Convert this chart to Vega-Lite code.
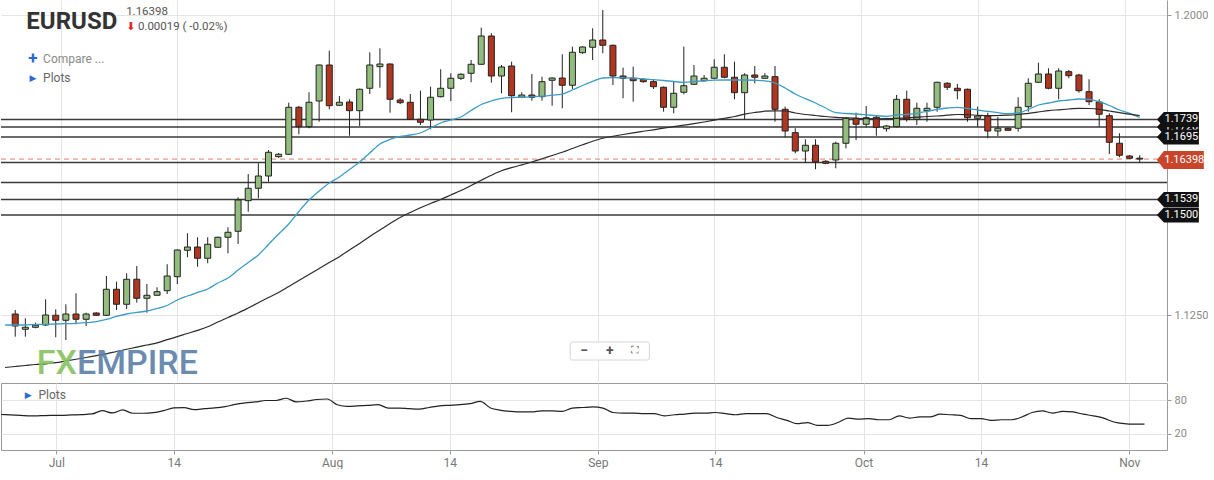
{
"$schema": "https://vega.github.io/schema/vega-lite/v6.json",
"background": "#ffffff",
"padding": 0,
"spacing": 0,
"config": {"font": "Roboto", "view": {"stroke": null}, "axis": {"labelColor": "#8a8a8a", "labelFontSize": 11, "tickColor": "#9a9a9a", "domainColor": "#9a9a9a", "gridColor": "#e4e4e4"}},
"resolve": {"scale": {"x": "independent", "y": "independent"}},
"datasets": {
"candles": [
{"i":-1,"o":1.1308,"h":1.1349,"l":1.1247,"c":1.1253,"m20":1.1225,"m50":1.11188,"osc":54.5},
{"i":0,"o":1.12525,"h":1.12625,"l":1.11958,"c":1.12225,"m20":1.1225,"m50":1.11213,"osc":53.6},
{"i":1,"o":1.12143,"h":1.12418,"l":1.11958,"c":1.12193,"m20":1.1225,"m50":1.11238,"osc":52.7},
{"i":2,"o":1.12193,"h":1.12308,"l":1.12168,"c":1.12243,"m20":1.12263,"m50":1.11263,"osc":51.8},
{"i":3,"o":1.1225,"h":1.12893,"l":1.12225,"c":1.125,"m20":1.12268,"m50":1.1128,"osc":52.3},
{"i":4,"o":1.12493,"h":1.12643,"l":1.11943,"c":1.12368,"m20":1.12275,"m50":1.11308,"osc":52.7},
{"i":5,"o":1.12368,"h":1.12768,"l":1.11875,"c":1.12525,"m20":1.12283,"m50":1.1135,"osc":52.7},
{"i":6,"o":1.12525,"h":1.13043,"l":1.12268,"c":1.12393,"m20":1.12293,"m50":1.11393,"osc":53.6},
{"i":7,"o":1.12393,"h":1.12558,"l":1.12225,"c":1.12525,"m20":1.12308,"m50":1.11438,"osc":54.1},
{"i":8,"o":1.1255,"h":1.12568,"l":1.12475,"c":1.12493,"m20":1.12333,"m50":1.11485,"osc":55.4},
{"i":9,"o":1.12493,"h":1.13475,"l":1.1248,"c":1.13143,"m20":1.12388,"m50":1.1153,"osc":61.3},
{"i":10,"o":1.13143,"h":1.13333,"l":1.12625,"c":1.12768,"m20":1.12463,"m50":1.11588,"osc":57.2},
{"i":11,"o":1.12768,"h":1.13543,"l":1.1265,"c":1.13393,"m20":1.12525,"m50":1.11643,"osc":62.6},
{"i":12,"o":1.13393,"h":1.13725,"l":1.12808,"c":1.12918,"m20":1.12563,"m50":1.11695,"osc":56.7},
{"i":13,"o":1.12918,"h":1.13275,"l":1.12558,"c":1.12993,"m20":1.126,"m50":1.1175,"osc":56.7},
{"i":14,"o":1.12993,"h":1.13193,"l":1.1299,"c":1.13083,"m20":1.12663,"m50":1.11805,"osc":57.7},
{"i":15,"o":1.13108,"h":1.13768,"l":1.13025,"c":1.13475,"m20":1.12738,"m50":1.11883,"osc":61.3},
{"i":16,"o":1.13458,"h":1.1414,"l":1.13275,"c":1.14125,"m20":1.12875,"m50":1.11958,"osc":66.2},
{"i":17,"o":1.14118,"h":1.14543,"l":1.13943,"c":1.142,"m20":1.12975,"m50":1.12038,"osc":66.7},
{"i":18,"o":1.142,"h":1.14443,"l":1.13708,"c":1.13918,"m20":1.13063,"m50":1.12115,"osc":63.1},
{"i":19,"o":1.13918,"h":1.14443,"l":1.13793,"c":1.14268,"m20":1.1315,"m50":1.12205,"osc":64.9},
{"i":20,"o":1.14193,"h":1.1446,"l":1.1418,"c":1.14443,"m20":1.133,"m50":1.12325,"osc":66.2},
{"i":21,"o":1.14443,"h":1.14693,"l":1.14043,"c":1.14568,"m20":1.13425,"m50":1.12438,"osc":68.5},
{"i":22,"o":1.14593,"h":1.15443,"l":1.14275,"c":1.15375,"m20":1.13625,"m50":1.1255,"osc":72.5},
{"i":23,"o":1.15358,"h":1.16025,"l":1.15083,"c":1.15668,"m20":1.13813,"m50":1.12675,"osc":75.2},
{"i":24,"o":1.15668,"h":1.16293,"l":1.15418,"c":1.15975,"m20":1.14,"m50":1.12805,"osc":77},
{"i":25,"o":1.15975,"h":1.16625,"l":1.15833,"c":1.16568,"m20":1.14263,"m50":1.12938,"osc":79.6},
{"i":26,"o":1.16458,"h":1.1655,"l":1.1643,"c":1.16518,"m20":1.14525,"m50":1.13063,"osc":79.6},
{"i":27,"o":1.16518,"h":1.17808,"l":1.165,"c":1.17693,"m20":1.14775,"m50":1.13213,"osc":83.6},
{"i":28,"o":1.17693,"h":1.17725,"l":1.17018,"c":1.17208,"m20":1.15088,"m50":1.13363,"osc":77},
{"i":29,"o":1.17208,"h":1.18068,"l":1.17168,"c":1.17818,"m20":1.15375,"m50":1.13513,"osc":78.7},
{"i":30,"o":1.1785,"h":1.1876,"l":1.17333,"c":1.1875,"m20":1.156,"m50":1.13663,"osc":81.4},
{"i":31,"o":1.1875,"h":1.19108,"l":1.17643,"c":1.17733,"m20":1.158,"m50":1.13813,"osc":82.3},
{"i":32,"o":1.17743,"h":1.17975,"l":1.1773,"c":1.17818,"m20":1.1595,"m50":1.13958,"osc":72},
{"i":33,"o":1.17825,"h":1.17893,"l":1.16983,"c":1.17608,"m20":1.16138,"m50":1.14125,"osc":69},
{"i":34,"o":1.17608,"h":1.1816,"l":1.17225,"c":1.18143,"m20":1.16325,"m50":1.14288,"osc":70},
{"i":35,"o":1.18168,"h":1.19068,"l":1.18025,"c":1.1875,"m20":1.1655,"m50":1.14463,"osc":71},
{"i":36,"o":1.18708,"h":1.19168,"l":1.18183,"c":1.18775,"m20":1.16775,"m50":1.14625,"osc":72},
{"i":37,"o":1.18775,"h":1.1879,"l":1.17558,"c":1.17893,"m20":1.16888,"m50":1.14788,"osc":66},
{"i":38,"o":1.17875,"h":1.1792,"l":1.1777,"c":1.17808,"m20":1.16963,"m50":1.14938,"osc":66},
{"i":39,"o":1.17818,"h":1.18025,"l":1.1738,"c":1.17393,"m20":1.17,"m50":1.15063,"osc":65},
{"i":40,"o":1.17393,"h":1.18108,"l":1.1725,"c":1.17318,"m20":1.1705,"m50":1.1518,"osc":64},
{"i":41,"o":1.17375,"h":1.18208,"l":1.17143,"c":1.17943,"m20":1.17175,"m50":1.15288,"osc":67},
{"i":42,"o":1.17958,"h":1.18643,"l":1.1794,"c":1.18168,"m20":1.173,"m50":1.15388,"osc":70},
{"i":43,"o":1.18168,"h":1.18543,"l":1.1785,"c":1.18418,"m20":1.17375,"m50":1.155,"osc":71},
{"i":44,"o":1.18418,"h":1.18543,"l":1.18375,"c":1.18518,"m20":1.1745,"m50":1.15613,"osc":72},
{"i":45,"o":1.18543,"h":1.18875,"l":1.18318,"c":1.18768,"m20":1.17613,"m50":1.15738,"osc":74},
{"i":46,"o":1.18768,"h":1.19683,"l":1.1875,"c":1.19475,"m20":1.17763,"m50":1.15868,"osc":78},
{"i":47,"o":1.19475,"h":1.19543,"l":1.18308,"c":1.18475,"m20":1.1785,"m50":1.15993,"osc":66},
{"i":48,"o":1.18475,"h":1.1875,"l":1.18043,"c":1.187,"m20":1.17918,"m50":1.16105,"osc":62},
{"i":49,"o":1.18725,"h":1.18833,"l":1.17568,"c":1.17983,"m20":1.17938,"m50":1.16183,"osc":60},
{"i":50,"o":1.17943,"h":1.18068,"l":1.1792,"c":1.18,"m20":1.17943,"m50":1.16255,"osc":59},
{"i":51,"o":1.18,"h":1.18525,"l":1.17858,"c":1.17943,"m20":1.17955,"m50":1.16325,"osc":59},
{"i":52,"o":1.17958,"h":1.18458,"l":1.17858,"c":1.18333,"m20":1.1797,"m50":1.16405,"osc":61},
{"i":53,"o":1.18368,"h":1.1844,"l":1.17733,"c":1.18425,"m20":1.17995,"m50":1.16488,"osc":61},
{"i":54,"o":1.18425,"h":1.19018,"l":1.17668,"c":1.18243,"m20":1.1802,"m50":1.16568,"osc":60},
{"i":55,"o":1.18243,"h":1.19208,"l":1.1815,"c":1.19068,"m20":1.18125,"m50":1.16663,"osc":66},
{"i":56,"o":1.19058,"h":1.1922,"l":1.1903,"c":1.192,"m20":1.18238,"m50":1.16755,"osc":67},
{"i":57,"o":1.19193,"h":1.19668,"l":1.18875,"c":1.19375,"m20":1.18338,"m50":1.16843,"osc":68},
{"i":58,"o":1.19375,"h":1.20125,"l":1.19043,"c":1.19243,"m20":1.18425,"m50":1.16918,"osc":66},
{"i":59,"o":1.19243,"h":1.1926,"l":1.1825,"c":1.18475,"m20":1.18433,"m50":1.16968,"osc":58},
{"i":60,"o":1.18475,"h":1.18683,"l":1.17918,"c":1.18418,"m20":1.1843,"m50":1.17013,"osc":57},
{"i":61,"o":1.18418,"h":1.18708,"l":1.17833,"c":1.18358,"m20":1.18425,"m50":1.17055,"osc":57},
{"i":62,"o":1.18393,"h":1.1842,"l":1.1831,"c":1.18333,"m20":1.184,"m50":1.17093,"osc":56},
{"i":63,"o":1.18333,"h":1.184,"l":1.1815,"c":1.18208,"m20":1.18383,"m50":1.1713,"osc":56},
{"i":64,"o":1.18193,"h":1.1821,"l":1.17583,"c":1.17693,"m20":1.18363,"m50":1.1717,"osc":52},
{"i":65,"o":1.17693,"h":1.18333,"l":1.17543,"c":1.18043,"m20":1.18338,"m50":1.17208,"osc":54},
{"i":66,"o":1.18068,"h":1.19208,"l":1.18018,"c":1.18233,"m20":1.18318,"m50":1.17245,"osc":55},
{"i":67,"o":1.18268,"h":1.1875,"l":1.1825,"c":1.18475,"m20":1.18338,"m50":1.17283,"osc":57},
{"i":68,"o":1.18358,"h":1.185,"l":1.18333,"c":1.18418,"m20":1.18355,"m50":1.17325,"osc":57},
{"i":69,"o":1.18418,"h":1.18893,"l":1.18393,"c":1.18693,"m20":1.1837,"m50":1.1737,"osc":58},
{"i":70,"o":1.18693,"h":1.19018,"l":1.18418,"c":1.18443,"m20":1.18375,"m50":1.17418,"osc":56},
{"i":71,"o":1.18443,"h":1.18833,"l":1.17893,"c":1.18058,"m20":1.18375,"m50":1.17463,"osc":54},
{"i":72,"o":1.18058,"h":1.18543,"l":1.17393,"c":1.185,"m20":1.18375,"m50":1.1752,"osc":56},
{"i":73,"o":1.185,"h":1.18725,"l":1.18293,"c":1.18443,"m20":1.18368,"m50":1.17563,"osc":56},
{"i":74,"o":1.18418,"h":1.18543,"l":1.184,"c":1.18475,"m20":1.18355,"m50":1.17595,"osc":56},
{"i":75,"o":1.18458,"h":1.18725,"l":1.17333,"c":1.17643,"m20":1.183,"m50":1.17605,"osc":49},
{"i":76,"o":1.17643,"h":1.17708,"l":1.16943,"c":1.171,"m20":1.18175,"m50":1.176,"osc":44},
{"i":77,"o":1.17058,"h":1.17168,"l":1.16543,"c":1.166,"m20":1.18025,"m50":1.1755,"osc":38},
{"i":78,"o":1.166,"h":1.16893,"l":1.16308,"c":1.16743,"m20":1.17908,"m50":1.17513,"osc":40},
{"i":79,"o":1.16743,"h":1.16893,"l":1.16143,"c":1.16325,"m20":1.178,"m50":1.17488,"osc":35},
{"i":80,"o":1.16343,"h":1.1637,"l":1.1627,"c":1.16293,"m20":1.17675,"m50":1.17463,"osc":35},
{"i":81,"o":1.16375,"h":1.16833,"l":1.16168,"c":1.16793,"m20":1.17558,"m50":1.17443,"osc":40},
{"i":82,"o":1.16793,"h":1.17443,"l":1.16668,"c":1.17418,"m20":1.17538,"m50":1.17428,"osc":48},
{"i":83,"o":1.17418,"h":1.17558,"l":1.16875,"c":1.17268,"m20":1.17525,"m50":1.17415,"osc":46},
{"i":84,"o":1.17268,"h":1.17725,"l":1.17193,"c":1.17433,"m20":1.17505,"m50":1.17408,"osc":47},
{"i":85,"o":1.17443,"h":1.1748,"l":1.16983,"c":1.17193,"m20":1.17483,"m50":1.17405,"osc":45},
{"i":86,"o":1.17158,"h":1.1725,"l":1.17083,"c":1.17225,"m20":1.17463,"m50":1.17408,"osc":45},
{"i":87,"o":1.17208,"h":1.18,"l":1.1719,"c":1.17893,"m20":1.175,"m50":1.17418,"osc":52},
{"i":88,"o":1.17893,"h":1.18108,"l":1.17333,"c":1.17393,"m20":1.17518,"m50":1.1743,"osc":48},
{"i":89,"o":1.17393,"h":1.17808,"l":1.1725,"c":1.17668,"m20":1.17543,"m50":1.17445,"osc":50},
{"i":90,"o":1.17608,"h":1.17808,"l":1.17333,"c":1.17668,"m20":1.17588,"m50":1.17463,"osc":50},
{"i":91,"o":1.17693,"h":1.1833,"l":1.17583,"c":1.18318,"m20":1.17643,"m50":1.17475,"osc":55},
{"i":92,"o":1.18293,"h":1.1832,"l":1.18125,"c":1.18193,"m20":1.17675,"m50":1.17495,"osc":54},
{"i":93,"o":1.18168,"h":1.18275,"l":1.17893,"c":1.18108,"m20":1.17693,"m50":1.17513,"osc":53},
{"i":94,"o":1.18143,"h":1.1816,"l":1.17333,"c":1.17433,"m20":1.17663,"m50":1.17508,"osc":47},
{"i":95,"o":1.17418,"h":1.17708,"l":1.17208,"c":1.17475,"m20":1.17625,"m50":1.17493,"osc":47},
{"i":96,"o":1.17475,"h":1.17558,"l":1.16918,"c":1.171,"m20":1.17588,"m50":1.17483,"osc":44},
{"i":97,"o":1.171,"h":1.17458,"l":1.16975,"c":1.17168,"m20":1.17558,"m50":1.17488,"osc":45},
{"i":98,"o":1.17168,"h":1.1718,"l":1.171,"c":1.17118,"m20":1.17533,"m50":1.17495,"osc":45},
{"i":99,"o":1.17168,"h":1.17943,"l":1.17083,"c":1.17693,"m20":1.1755,"m50":1.17513,"osc":50},
{"i":100,"o":1.17708,"h":1.18418,"l":1.17583,"c":1.18293,"m20":1.17638,"m50":1.17543,"osc":58},
{"i":101,"o":1.18318,"h":1.18808,"l":1.1831,"c":1.18525,"m20":1.1775,"m50":1.17575,"osc":61},
{"i":102,"o":1.18525,"h":1.18668,"l":1.18143,"c":1.18168,"m20":1.178,"m50":1.17608,"osc":57},
{"i":103,"o":1.18168,"h":1.18668,"l":1.17893,"c":1.186,"m20":1.1785,"m50":1.1763,"osc":60},
{"i":104,"o":1.18583,"h":1.18625,"l":1.18418,"c":1.18483,"m20":1.17875,"m50":1.1765,"osc":59},
{"i":105,"o":1.185,"h":1.1853,"l":1.18058,"c":1.18108,"m20":1.179,"m50":1.17668,"osc":55},
{"i":106,"o":1.18083,"h":1.18393,"l":1.1775,"c":1.17833,"m20":1.17893,"m50":1.17663,"osc":52},
{"i":107,"o":1.17825,"h":1.17893,"l":1.17208,"c":1.17518,"m20":1.17833,"m50":1.17643,"osc":48},
{"i":108,"o":1.17483,"h":1.17543,"l":1.16525,"c":1.16818,"m20":1.17738,"m50":1.176,"osc":41},
{"i":109,"o":1.16793,"h":1.17043,"l":1.16443,"c":1.16493,"m20":1.17625,"m50":1.17558,"osc":38},
{"i":110,"o":1.16475,"h":1.165,"l":1.164,"c":1.16418,"m20":1.17538,"m50":1.1752,"osc":37},
{"i":111,"o":1.1642,"h":1.16493,"l":1.16325,"c":1.16398,"m20":1.17438,"m50":1.17483,"osc":37}
],
"levels": [
{"v":1.172,"lab":"1.1720","tag":1},
{"v":1.1739,"lab":"1.1739","tag":1},
{"v":1.1695,"lab":"1.1695","tag":1},
{"v":1.1631,"lab":"","tag":0},
{"v":1.1581,"lab":"","tag":0},
{"v":1.1539,"lab":"1.1539","tag":1},
{"v":1.15,"lab":"1.1500","tag":1}
]
},
"vconcat": [
{
"width": 1166, "height": 381,
"layer": [
{"data": {"name": "levels"},
 "mark": {"type": "rule", "color": "#3a3a3a", "strokeWidth": 1.5},
 "encoding": {"y": {"field": "v", "type": "quantitative", "scale": {"domain": [1.1085, 1.20375], "nice": false, "zero": false}, "axis": {"orient": "right", "values": [1.125, 1.2], "format": ".4f", "grid": true, "title": null, "tickSize": 4, "labelPadding": 3}}}},
{"data": {"values": [{}]},
 "mark": {"type": "rule", "color": "#e0806f", "strokeWidth": 1, "strokeDash": [5, 4]},
 "encoding": {"y": {"datum": 1.16398, "type": "quantitative"}}},
{"data": {"name": "candles"}, "transform": [{"filter": "datum.i >= 0"}],
 "mark": {"type": "rule", "color": "#222222", "strokeWidth": 1, "clip": true},
 "encoding": {
  "x": {"field": "i", "type": "quantitative", "scale": {"domain": [-0.91, 113.2], "nice": false, "zero": false}, "axis": {"values": [4.5, 16, 31.5, 43, 57.5, 69, 83.5, 95, 109.5], "labels": false, "ticks": false, "domain": false, "grid": true, "title": null}},
  "y": {"field": "l", "type": "quantitative"}, "y2": {"field": "h"}}},
{"data": {"name": "candles"}, "transform": [{"filter": "datum.i >= 0"}],
 "mark": {"type": "bar", "width": 6, "stroke": "#222222", "strokeWidth": 1, "clip": true},
 "encoding": {
  "x": {"field": "i", "type": "quantitative"},
  "y": {"field": "o", "type": "quantitative"}, "y2": {"field": "c"},
  "fill": {"condition": {"test": "datum.c >= datum.o", "value": "#93bd7e"}, "value": "#b1361f"}}},
{"data": {"name": "candles"},
 "mark": {"type": "line", "color": "#3b9dc6", "strokeWidth": 1.3, "clip": true, "interpolate": "monotone"},
 "encoding": {"x": {"field": "i", "type": "quantitative"}, "y": {"field": "m20", "type": "quantitative"}}},
{"data": {"name": "candles"},
 "mark": {"type": "line", "color": "#2b2b2b", "strokeWidth": 1.2, "clip": true, "interpolate": "monotone"},
 "encoding": {"x": {"field": "i", "type": "quantitative"}, "y": {"field": "m50", "type": "quantitative"}}},
{"data": {"name": "levels"}, "transform": [{"filter": "datum.v == 1.172"}],
 "mark": {"type": "point", "shape": "M-1,0L-0.667,-0.357L1,-0.357L1,0.357L-0.667,0.357Z", "filled": true, "size": 1764, "color": "#111111", "opacity": 1},
 "encoding": {"x": {"datum": 114.77, "type": "quantitative"}, "y": {"field": "v", "type": "quantitative"}}},
{"data": {"name": "levels"}, "transform": [{"filter": "datum.v == 1.172"}],
 "mark": {"type": "text", "color": "#ffffff", "fontSize": 11, "align": "center", "baseline": "middle"},
 "encoding": {"x": {"datum": 115.11, "type": "quantitative"}, "y": {"field": "v", "type": "quantitative"}, "text": {"field": "lab"}}},
{"data": {"name": "levels"}, "transform": [{"filter": "datum.tag == 1 && datum.v != 1.172"}],
 "mark": {"type": "point", "shape": "M-1,0L-0.667,-0.357L1,-0.357L1,0.357L-0.667,0.357Z", "filled": true, "size": 1764, "color": "#111111", "opacity": 1},
 "encoding": {"x": {"datum": 114.77, "type": "quantitative"}, "y": {"field": "v", "type": "quantitative"}}},
{"data": {"name": "levels"}, "transform": [{"filter": "datum.tag == 1 && datum.v != 1.172"}],
 "mark": {"type": "text", "color": "#ffffff", "fontSize": 11, "align": "center", "baseline": "middle"},
 "encoding": {"x": {"datum": 115.11, "type": "quantitative"}, "y": {"field": "v", "type": "quantitative"}, "text": {"field": "lab"}}},
{"data": {"values": [{}]},
 "mark": {"type": "point", "shape": "M-1,0L-0.702,-0.383L1,-0.383L1,0.383L-0.702,0.383Z", "filled": true, "size": 2209, "color": "#c8452c", "opacity": 1},
 "encoding": {"x": {"datum": 115.01, "type": "quantitative"}, "y": {"datum": 1.16375, "type": "quantitative"}}},
{"data": {"values": [{}]},
 "mark": {"type": "text", "color": "#ffffff", "fontSize": 11, "align": "center", "baseline": "middle"},
 "encoding": {"x": {"datum": 115.4, "type": "quantitative"}, "y": {"datum": 1.16375, "type": "quantitative"}, "text": {"value": "1.16398"}}},
{"data": {"values": [{}]},
 "mark": {"type": "text", "color": "#333333", "fontSize": 24, "fontWeight": "bold", "font": "Roboto", "align": "left", "baseline": "middle"},
 "encoding": {"x": {"datum": 1.1, "type": "quantitative"}, "y": {"datum": 1.19825, "type": "quantitative"}, "text": {"value": "EURUSD"}}},
{"data": {"values": [{}]},
 "mark": {"type": "text", "color": "#555555", "fontSize": 11.5, "align": "left", "baseline": "middle"},
 "encoding": {"x": {"datum": 10.95, "type": "quantitative"}, "y": {"datum": 1.20075, "type": "quantitative"}, "text": {"value": "1.16398"}}},
{"data": {"values": [{}]},
 "mark": {"type": "text", "color": "#e02030", "fontSize": 11, "font": "DejaVu Sans", "align": "center", "baseline": "middle"},
 "encoding": {"x": {"datum": 11.42, "type": "quantitative"}, "y": {"datum": 1.197, "type": "quantitative"}, "text": {"value": "⬇"}}},
{"data": {"values": [{}]},
 "mark": {"type": "text", "color": "#555555", "fontSize": 11.5, "align": "left", "baseline": "middle"},
 "encoding": {"x": {"datum": 12.11, "type": "quantitative"}, "y": {"datum": 1.197, "type": "quantitative"}, "text": {"value": "0.00019 ( -0.02%)"}}},
{"data": {"values": [{}]},
 "mark": {"type": "text", "color": "#2a6ad1", "fontSize": 17, "fontWeight": "bold", "align": "center", "baseline": "middle"},
 "encoding": {"x": {"datum": 1.75, "type": "quantitative"}, "y": {"datum": 1.189, "type": "quantitative"}, "text": {"value": "+"}}},
{"data": {"values": [{}]},
 "mark": {"type": "text", "color": "#8a8a8a", "fontSize": 12, "align": "left", "baseline": "middle"},
 "encoding": {"x": {"datum": 2.75, "type": "quantitative"}, "y": {"datum": 1.189, "type": "quantitative"}, "text": {"value": "Compare ..."}}},
{"data": {"values": [{}]},
 "mark": {"type": "text", "color": "#2a6ad1", "fontSize": 9, "font": "DejaVu Sans", "align": "center", "baseline": "middle"},
 "encoding": {"x": {"datum": 1.75, "type": "quantitative"}, "y": {"datum": 1.18425, "type": "quantitative"}, "text": {"value": "▶"}}},
{"data": {"values": [{}]},
 "mark": {"type": "text", "color": "#666666", "fontSize": 12, "align": "left", "baseline": "middle"},
 "encoding": {"x": {"datum": 2.75, "type": "quantitative"}, "y": {"datum": 1.18425, "type": "quantitative"}, "text": {"value": "Plots"}}},
{"data": {"values": [{}]},
 "mark": {"type": "text", "color": "#86c25e", "fontSize": 34, "fontWeight": 500, "align": "right", "baseline": "middle", "opacity": 0.9},
 "encoding": {"x": {"datum": 6.1, "type": "quantitative"}, "y": {"datum": 1.11275, "type": "quantitative"}, "text": {"value": "FX"}}},
{"data": {"values": [{}]},
 "mark": {"type": "text", "color": "#5b7fa9", "fontSize": 34, "fontWeight": 500, "align": "left", "baseline": "middle", "opacity": 0.9},
 "encoding": {"x": {"datum": 6.1, "type": "quantitative"}, "y": {"datum": 1.11275, "type": "quantitative"}, "text": {"value": "EMPIRE"}}},
{"data": {"values": [{}]},
 "mark": {"type": "rect", "fill": "#ffffff", "stroke": "#d6d6d6", "strokeWidth": 1, "cornerRadius": 2},
 "encoding": {"x": {"datum": 54.78, "type": "quantitative"}, "x2": {"datum": 62.6}, "y": {"datum": 1.11825, "type": "quantitative"}, "y2": {"datum": 1.11375}}},
{"data": {"values": [{}]},
 "mark": {"type": "text", "color": "#555555", "fontSize": 14, "fontWeight": "bold", "align": "center", "baseline": "middle"},
 "encoding": {"x": {"datum": 56.15, "type": "quantitative"}, "y": {"datum": 1.1161, "type": "quantitative"}, "text": {"value": "−"}}},
{"data": {"values": [{}]},
 "mark": {"type": "text", "color": "#555555", "fontSize": 14, "fontWeight": "bold", "align": "center", "baseline": "middle"},
 "encoding": {"x": {"datum": 58.7, "type": "quantitative"}, "y": {"datum": 1.1161, "type": "quantitative"}, "text": {"value": "+"}}},
{"data": {"values": [{}]},
 "mark": {"type": "text", "color": "#555555", "fontSize": 11, "font": "DejaVu Sans", "align": "center", "baseline": "middle"},
 "encoding": {"x": {"datum": 61.2, "type": "quantitative"}, "y": {"datum": 1.1161, "type": "quantitative"}, "text": {"value": "⛶"}}}
]
},
{
"width": 1166, "height": 67,
"view": {"stroke": "#9a9a9a"},
"layer": [
{"data": {"name": "candles"},
 "mark": {"type": "line", "color": "#222222", "strokeWidth": 1.2, "clip": true, "interpolate": "monotone"},
 "encoding": {
  "x": {"field": "i", "type": "quantitative", "scale": {"domain": [-0.91, 113.2], "nice": false, "zero": false}, "axis": {"values": [4.5, 16, 31.5, 43, 57.5, 69, 83.5, 95, 109.5], "labelExpr": "datum.value == 4.5 ? 'Jul' : datum.value == 31.5 ? 'Aug' : datum.value == 57.5 ? 'Sep' : datum.value == 83.5 ? 'Oct' : datum.value == 109.5 ? 'Nov' : '14'", "grid": true, "domain": false, "tickSize": 4, "labelPadding": 3, "labelFontSize": 12, "labelColor": "#777777", "title": null}},
  "y": {"field": "osc", "type": "quantitative", "scale": {"domain": [-9.3, 111], "nice": false, "zero": false}, "axis": {"orient": "right", "values": [20, 80], "grid": true, "domain": false, "tickSize": 4, "labelPadding": 3, "title": null}}}},
{"data": {"values": [{}]},
 "mark": {"type": "text", "color": "#2a6ad1", "fontSize": 9, "font": "DejaVu Sans", "align": "center", "baseline": "middle"},
 "encoding": {"x": {"datum": 1.75, "type": "quantitative"}, "y": {"datum": 89.5, "type": "quantitative"}, "text": {"value": "▶"}}},
{"data": {"values": [{}]},
 "mark": {"type": "text", "color": "#666666", "fontSize": 12, "align": "left", "baseline": "middle"},
 "encoding": {"x": {"datum": 2.75, "type": "quantitative"}, "y": {"datum": 89.5, "type": "quantitative"}, "text": {"value": "Plots"}}}
]
}
]
}
